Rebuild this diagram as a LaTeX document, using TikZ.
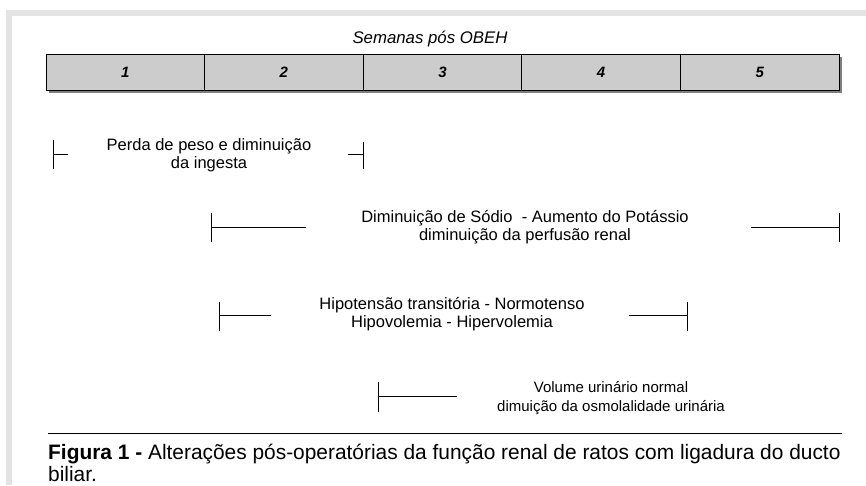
\documentclass[tikz,border=0pt]{standalone}
\usepackage{fontspec}
\setmainfont{Liberation Sans}
\usetikzlibrary{positioning}
\definecolor{framegray}{HTML}{E3E3E3}
\definecolor{boxgray}{HTML}{CCCCCC}
\definecolor{shadowgray}{HTML}{7F7F7F}

\begin{document}
\begin{tikzpicture}[x=1pt,y=-1pt,
  txt/.style={align=center,inner sep=0pt,font=\fontsize{16.5}{18.5}\selectfont},
  wk/.style={font=\fontsize{15}{17}\selectfont\bfseries\itshape},
  brk/.style={line width=1pt}]
\useasboundingbox (0,0) rectangle (866,485);
\fill[framegray] (6,10) rectangle (866,485);
\fill[white] (12,16) rectangle (866,485);
% weeks bar
\node[font=\fontsize{16.8}{18}\selectfont\itshape] (title) at (430,39) {Semanas pós OBEH};
\foreach \i in {1,...,5}{
  \pgfmathsetmacro{\xa}{46+(\i-1)*158.6}
  \pgfmathsetmacro{\xb}{\xa+158.6}
  \fill[shadowgray] (\xa+3,57) rectangle (\xb+3,93);
  \draw[line width=1pt,fill=boxgray] (\xa,54) rectangle (\xb,90);
  \node[wk] (w\i) at ({(\xa+\xb)/2},72) {\i};
}
% labels
\node[txt] (t1) at (209,155) {Perda de peso e diminuição\\da ingesta};
\node[txt] (t2) at (525,227) {Diminuição de Sódio\ \ - Aumento do Potássio\\diminuição da perfusão renal};
\node[txt] (t3) at (452,314) {Hipotensão transitória - Normotenso\\Hipovolemia - Hipervolemia};
\node[txt,font=\fontsize{15}{18.5}\selectfont] (t4) at (611,398) {Volume urinário normal\\dimuição da osmolalidade urinária};
% brackets
\coordinate (a1) at (53,154);  \coordinate (a1e) at (68,154);
\coordinate (b1) at (363,154); \coordinate (b1e) at (348,154);
\draw[brk] (a1) -- (a1e) (b1) -- (b1e);
\draw[brk] (53,140) -- (53,169) (363,142) -- (363,169);
\coordinate (a2) at (211,227); \coordinate (a2e) at (306,227);
\coordinate (b2) at (839,227); \coordinate (b2e) at (751,227);
\draw[brk] (a2) -- (a2e) (b2) -- (b2e);
\draw[brk] (211,213) -- (211,242) (839,213) -- (839,242);
\coordinate (a3) at (219,315); \coordinate (a3e) at (271,315);
\coordinate (b3) at (687,315); \coordinate (b3e) at (629,315);
\draw[brk] (a3) -- (a3e) (b3) -- (b3e);
\draw[brk] (219,302) -- (219,331) (687,302) -- (687,331);
\coordinate (a4) at (378,396); \coordinate (a4e) at (457,396);
\draw[brk] (a4) -- (a4e);
\draw[brk] (378,382) -- (378,412);
% caption
\draw[line width=0.8pt] (48,433) -- (842,433);
\node[anchor=base west,inner sep=0pt,font=\fontsize{20.9}{22}\selectfont] (cap1) at (48,459)
  {\textbf{Figura 1 -} Alterações pós-operatórias da função renal de ratos com ligadura do ducto};
\node[anchor=base west,inner sep=0pt,font=\fontsize{20.9}{22}\selectfont] (cap2) at (48,481) {biliar.};
\end{tikzpicture}
\end{document}
